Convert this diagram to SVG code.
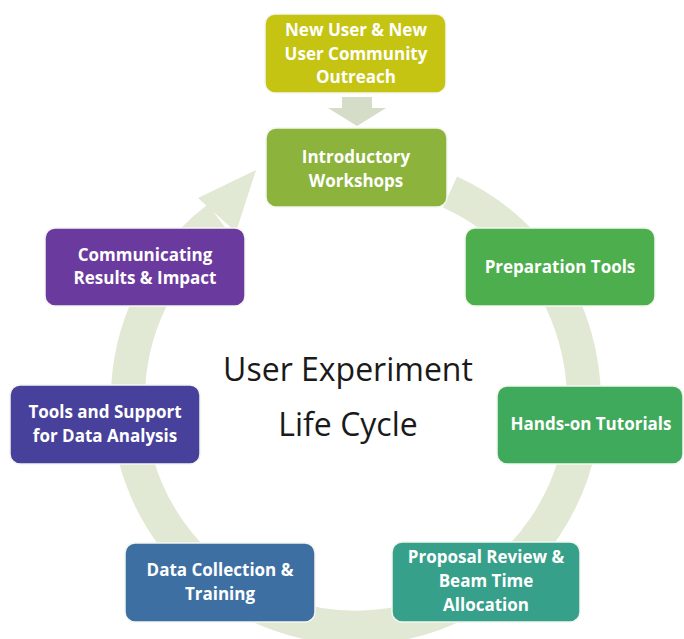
<svg xmlns="http://www.w3.org/2000/svg" width="684" height="639" viewBox="0 0 684 639">
<style>
.box{stroke:#f4f6ef;stroke-width:1.5}
.t{font-family:"Open Sans","Liberation Sans",sans-serif;font-weight:700;font-size:17px;fill:#ffffff;text-anchor:middle}
.c{font-family:"Open Sans","Liberation Sans",sans-serif;font-size:32px;fill:#1a1a1a;text-anchor:middle}
</style>
<rect width="684" height="639" fill="#ffffff"/>
<g id="connectors">
<path d="M 450 192 A 228 228 0 1 1 218 218" fill="none" stroke="#e1e8d3" stroke-width="34"/>
<polygon points="198,198 236,232 256,170" fill="#e1e8d3"/>
<polygon points="342,97 372,97 372,108 386,108 357,126 328,108 342,108" fill="#d5dcc8"/>
</g>
<g id="n-outreach">
<rect class="box" x="265" y="14" width="181" height="79" rx="10" fill="#c5c412"/>
<text class="t" x="356" y="36">New User &amp; New</text>
<text class="t" x="356" y="60">User Community</text>
<text class="t" x="356" y="83">Outreach</text>
</g>
<g id="n-workshops">
<rect class="box" x="266" y="128" width="181" height="79" rx="10" fill="#8cb33c"/>
<text class="t" x="356" y="163">Introductory</text>
<text class="t" x="356" y="187">Workshops</text>
</g>
<g id="n-prep">
<rect class="box" x="465" y="228" width="190" height="78" rx="10" fill="#4cae4c"/>
<text class="t" x="560" y="273">Preparation Tools</text>
</g>
<g id="n-tutorials">
<rect class="box" x="497" y="386" width="186" height="78" rx="10" fill="#3fa95c"/>
<text class="t" x="591" y="430">Hands-on Tutorials</text>
</g>
<g id="n-proposal">
<rect class="box" x="392" y="542" width="188" height="80" rx="10" fill="#37a08a"/>
<text class="t" x="486" y="563">Proposal Review &amp;</text>
<text class="t" x="486" y="587">Beam Time</text>
<text class="t" x="486" y="611">Allocation</text>
</g>
<g id="n-collection">
<rect class="box" x="125" y="543" width="190" height="79" rx="10" fill="#3e6fa2"/>
<text class="t" x="220" y="576">Data Collection &amp;</text>
<text class="t" x="220" y="600">Training</text>
</g>
<g id="n-analysis">
<rect class="box" x="10" y="385" width="190" height="79" rx="10" fill="#47419b"/>
<text class="t" x="105" y="418">Tools and Support</text>
<text class="t" x="105" y="442">for Data Analysis</text>
</g>
<g id="n-communicating">
<rect class="box" x="45" y="228" width="200" height="78" rx="10" fill="#6b3a9e"/>
<text class="t" x="145" y="261">Communicating</text>
<text class="t" x="145" y="284">Results &amp; Impact</text>
</g>
<g id="center">
<text class="c" x="348" y="381">User Experiment</text>
<text class="c" x="348" y="436">Life Cycle</text>
</g>
</svg>
